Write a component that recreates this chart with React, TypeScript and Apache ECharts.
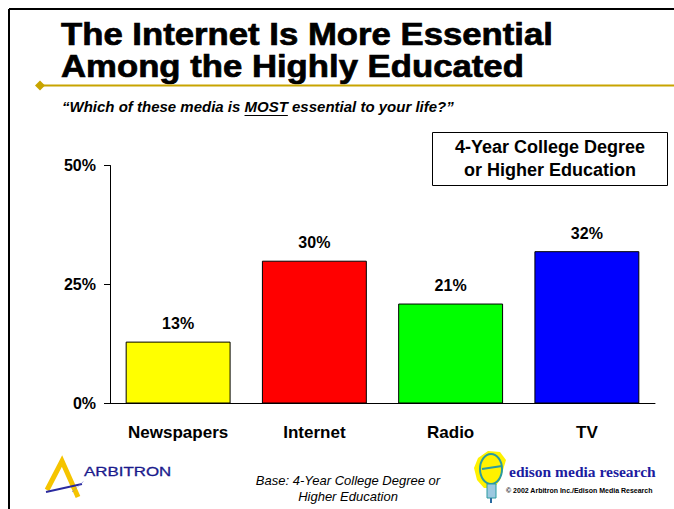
import React, { useEffect, useRef } from "react";
import * as echarts from "echarts";

const categories = ["Newspapers", "Internet", "Radio", "TV"];
const values = [13, 30, 21, 32];
const barColors = ["#FFFF00", "#FF0000", "#00FF00", "#0000FF"];
const yTicks = [0, 25, 50];
const titleLines = ["The Internet Is More Essential", "Among the Highly Educated"];
const subtitleParts = ["\u201CWhich of these media is ", "MOST", " essential to your life?\u201D"];
const legendLines = ["4-Year College Degree", "or Higher Education"];
const baseLines = ["Base: 4-Year College Degree or", "Higher Education"];

export default function App() {
  const ref = useRef<HTMLDivElement>(null);
  useEffect(() => {
    if (!ref.current) return;
    const chart = echarts.init(ref.current, null, { renderer: "svg" });
    const F = "'Liberation Sans', Arial, sans-serif";
    const subFont = `italic bold 15px ${F}`;
    let preW = 203, mostW = 46;
    try {
      const ctx = document.createElement("canvas").getContext("2d");
      if (ctx) {
        ctx.font = subFont;
        preW = ctx.measureText(subtitleParts[0]).width;
        mostW = ctx.measureText(subtitleParts[1]).width;
      }
    } catch (e) {}
    const subX = 62;
    chart.setOption({
      animation: false,
      backgroundColor: "#ffffff",
      grid: { left: 110, right: 19, top: 165.5, bottom: 105.5 },
      xAxis: {
        type: "category",
        data: categories,
        axisLine: { show: true, lineStyle: { color: "#000", width: 1 } },
        axisTick: { show: false },
        axisLabel: { color: "#000", fontFamily: F, fontWeight: "bold", fontSize: 17, margin: 20 },
      },
      yAxis: {
        type: "value",
        min: yTicks[0],
        max: yTicks[yTicks.length - 1],
        interval: 25,
        axisLine: { show: true, lineStyle: { color: "#000", width: 1 } },
        axisTick: { show: true, length: 6, lineStyle: { color: "#000" } },
        splitLine: { show: false },
        axisLabel: { color: "#000", fontFamily: F, fontWeight: "bold", fontSize: 16, margin: 14, formatter: "{value}%" },
      },
      series: [
        {
          type: "bar",
          data: values.map((v, i) => ({ value: v, itemStyle: { color: barColors[i] } })),
          barWidth: "77%",
          itemStyle: { borderColor: "#000", borderWidth: 1 },
          label: {
            show: true,
            position: "top",
            distance: 10,
            formatter: "{c}%",
            color: "#000",
            fontFamily: F,
            fontWeight: "bold",
            fontSize: 16,
          },
        },
      ],
      graphic: [
        // frame
        { type: "line", shape: { x1: 9, y1: 9, x2: 674, y2: 9 }, style: { stroke: "#000", lineWidth: 2 } },
        { type: "line", shape: { x1: 9, y1: 9, x2: 9, y2: 509 }, style: { stroke: "#000", lineWidth: 2 } },
        // title
        {
          type: "text", x: 61, y: 18, scaleX: 1.12,
          style: {
            text: titleLines.join("\n"), font: `bold 31px ${F}`, lineHeight: 32,
            fill: "#000", stroke: "#000", lineWidth: 0.7,
          },
        },
        // gold rule
        { type: "line", shape: { x1: 40, y1: 85.5, x2: 674, y2: 85.5 }, style: { stroke: "#C8A400", lineWidth: 2 } },
        { type: "polygon", shape: { points: [[35, 85.5], [40, 80.5], [45, 85.5], [40, 90.5]] }, style: { fill: "#C8A400" } },
        // subtitle
        {
          type: "text", left: subX, top: 99,
          style: { text: subtitleParts.join(""), font: subFont, fill: "#000" },
        },
        { type: "line", shape: { x1: subX + preW, y1: 115.5, x2: subX + preW + mostW, y2: 115.5 }, style: { stroke: "#000", lineWidth: 1 } },
        // legend box
        { type: "rect", shape: { x: 432.5, y: 132.5, width: 235, height: 53 }, style: { fill: "#fff", stroke: "#000", lineWidth: 1 } },
        {
          type: "text", x: 550, y: 147,
          style: { text: legendLines[0], font: `bold 18px ${F}`, fill: "#000", align: "center", verticalAlign: "middle" },
        },
        {
          type: "text", x: 550, y: 170,
          style: { text: legendLines[1], font: `bold 18px ${F}`, fill: "#000", align: "center", verticalAlign: "middle" },
        },
        // Arbitron logo
        { type: "polyline", shape: { points: [[47, 490], [62, 461], [78, 497]] }, style: { stroke: "#F5C400", lineWidth: 5, fill: null } },
        { type: "line", shape: { x1: 46, y1: 492, x2: 82, y2: 484 }, style: { stroke: "#2a2aa0", lineWidth: 2 } },
        { type: "line", shape: { x1: 72, y1: 492, x2: 84, y2: 481 }, style: { stroke: "#8080d0", lineWidth: 1, lineDash: [1, 1] } },
        {
          type: "text", x: 84, y: 471, scaleX: 1.3,
          style: { text: "ARBITRON", font: `13px ${F}`, fill: "#1a1a8c", verticalAlign: "middle", stroke: "#1a1a8c", lineWidth: 0.3 },
        },
        // base note
        {
          type: "text", x: 348, y: 480,
          style: { text: baseLines[0], font: `italic 13px ${F}`, fill: "#000", align: "center", verticalAlign: "middle" },
        },
        {
          type: "text", x: 348, y: 496,
          style: { text: baseLines[1], font: `italic 13px ${F}`, fill: "#000", align: "center", verticalAlign: "middle" },
        },
        // Edison logo
        {
          type: "polygon",
          shape: { points: [[478, 458], [488, 451], [500, 452], [506, 460], [503, 470], [500, 480], [494, 488], [484, 488], [477, 480], [474, 468]] },
          style: { fill: "#FFF200" },
        },
        { type: "ellipse", shape: { cx: 491, cy: 469, rx: 11, ry: 15 }, style: { fill: null, stroke: "#2a9aa0", lineWidth: 2 } },
        { type: "line", shape: { x1: 482, y1: 469, x2: 502, y2: 466 }, style: { stroke: "#2a9aa0", lineWidth: 2 } },
        { type: "rect", shape: { x: 487, y: 484, width: 9, height: 14 }, style: { fill: "#9cc8e0", stroke: "#2a9aa0", lineWidth: 1 } },
        { type: "line", shape: { x1: 491, y1: 498, x2: 491, y2: 503 }, style: { stroke: "#2a6aa0", lineWidth: 2 } },
        {
          type: "text", left: 509, top: 463,
          style: { text: "edison media research", font: `bold 15.5px 'Liberation Serif', 'Times New Roman', serif`, fill: "#1c1ca0" },
        },
        {
          type: "text", left: 506, top: 487,
          style: { text: "\u00A9 2002 Arbitron Inc./Edison Media Research", font: `bold 7px ${F}`, fill: "#000" },
        },
      ],
    });
    return () => chart.dispose();
  }, []);
  return <div ref={ref} style={{ position: "fixed", left: 0, top: 0, width: 674, height: 509 }} />;
}
